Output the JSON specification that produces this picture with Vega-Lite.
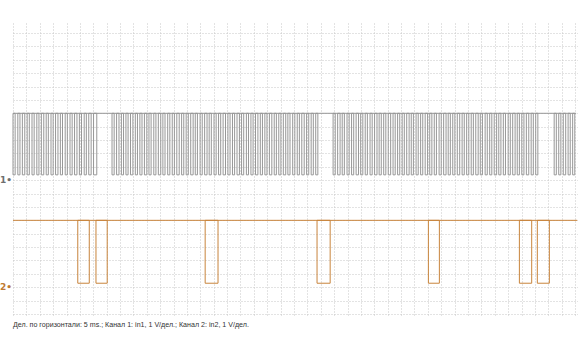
{
  "$schema": "https://vega.github.io/schema/vega-lite/v6.json",
  "width": 565,
  "height": 293,
  "autosize": "none",
  "padding": {"left": 13, "top": 23, "right": 0, "bottom": 34},
  "background": "white",
  "config": {"view": {"stroke": null}},
  "title": {"text": "Дел. по горизонтали: 5 ms.; Канал 1: in1, 1 V/дел.; Канал 2: in2, 1 V/дел.", "orient": "bottom", "anchor": "start", "frame": "group", "font": "Liberation Sans", "fontSize": 7.1, "fontWeight": "normal", "color": "#333333", "offset": 5},
  "datasets": {
    "ch1": [
      {"s":0.0,"e":0.8},{"s":1.8,"e":2.6},{"s":3.5,"e":4.4},{"s":5.3,"e":6.1},{"s":7.1,"e":7.9},{"s":8.9,"e":9.7},{"s":10.6,"e":11.5},{"s":12.4,"e":13.2},{"s":14.2,"e":15.0},{"s":15.9,"e":16.8},{"s":17.7,"e":18.5},{"s":19.5,"e":20.3},{"s":21.3,"e":22.1},{"s":23.0,"e":23.9},{"s":24.8,"e":25.6},{"s":26.6,"e":27.4},{"s":28.3,"e":29.2},{"s":30.1,"e":31.3},
      {"s":37.0,"e":37.8},{"s":38.7,"e":39.6},{"s":40.5,"e":41.3},{"s":42.2,"e":43.0},{"s":43.9,"e":44.8},{"s":45.7,"e":46.5},{"s":47.4,"e":48.2},{"s":49.1,"e":50.0},{"s":50.8,"e":51.6},{"s":52.6,"e":53.4},{"s":54.3,"e":55.2},{"s":56.0,"e":56.8},{"s":57.8,"e":58.6},{"s":59.5,"e":60.3},{"s":61.2,"e":62.1},{"s":63.0,"e":63.8},{"s":64.7,"e":65.5},{"s":66.4,"e":67.3},{"s":68.1,"e":68.9},{"s":69.9,"e":70.7},{"s":71.6,"e":72.5},{"s":73.3,"e":74.1},{"s":75.1,"e":75.9},{"s":76.8,"e":77.6},{"s":78.5,"e":79.4},{"s":80.3,"e":81.1},{"s":82.0,"e":82.8},{"s":83.7,"e":84.6},{"s":85.4,"e":86.2},{"s":87.2,"e":88.0},{"s":88.9,"e":89.7},{"s":90.6,"e":91.5},{"s":92.4,"e":93.2},{"s":94.1,"e":94.9},{"s":95.8,"e":96.7},{"s":97.6,"e":98.4},{"s":99.3,"e":100.1},{"s":101.0,"e":101.9},{"s":102.7,"e":103.5},{"s":104.5,"e":105.3},{"s":106.2,"e":107.0},{"s":107.9,"e":108.8},{"s":109.7,"e":110.5},{"s":111.4,"e":112.2},{"s":113.1,"e":113.9},
      {"s":119.6,"e":120.4},{"s":121.3,"e":122.2},{"s":123.0,"e":123.8},{"s":124.8,"e":125.6},{"s":126.5,"e":127.3},{"s":128.2,"e":129.1},{"s":129.9,"e":130.7},{"s":131.6,"e":132.4},{"s":133.4,"e":134.2},{"s":135.1,"e":136.0},{"s":136.8,"e":137.6},{"s":138.5,"e":139.3},{"s":140.2,"e":141.1},{"s":142.0,"e":142.8},{"s":143.7,"e":144.5},{"s":145.4,"e":146.2},{"s":147.1,"e":148.0},{"s":148.8,"e":149.6},{"s":150.6,"e":151.4},{"s":152.3,"e":153.1},{"s":154.0,"e":154.9},{"s":155.7,"e":156.5},{"s":157.4,"e":158.2},{"s":159.2,"e":160.0},{"s":160.9,"e":161.8},{"s":162.6,"e":163.4},{"s":164.3,"e":165.1},{"s":166.0,"e":166.9},{"s":167.8,"e":168.6},{"s":169.5,"e":170.3},{"s":171.2,"e":172.0},{"s":172.9,"e":173.8},{"s":174.6,"e":175.4},{"s":176.4,"e":177.2},{"s":178.1,"e":178.9},{"s":179.8,"e":180.7},{"s":181.5,"e":182.3},{"s":183.2,"e":184.0},{"s":185.0,"e":185.8},{"s":186.7,"e":187.6},{"s":188.4,"e":189.2},{"s":190.1,"e":190.9},{"s":191.8,"e":192.7},{"s":193.6,"e":194.4},{"s":195.3,"e":196.1},
      {"s":202.2,"e":203.0},{"s":203.9,"e":204.7},{"s":205.6,"e":206.5},{"s":207.4,"e":208.2},{"s":209.1,"e":209.9}
    ],
    "ch2": [
      {"s":24.2,"e":28.5},{"s":31.0,"e":35.2},{"s":71.8,"e":76.6},{"s":113.6,"e":118.5},{"s":155.2,"e":159.3},{"s":189.2,"e":193.8},{"s":195.9,"e":200.4}
    ]
  },
  "layer": [
    {
      "data": {"values": [{"ch": "1", "t0": 0, "t1": 210.4, "hi": 15}, {"ch": "2", "t0": 0, "t1": 210.8, "hi": 7}]},
      "mark": {"type": "rule", "strokeWidth": 1},
      "encoding": {
        "x": {"field": "t0", "type": "quantitative", "scale": {"domain": [0, 211.1], "nice": false, "zero": false},
          "axis": {"values": [0,5,10,15,20,25,30,35,40,45,50,55,60,65,70,75,80,85,90,95,100,105,110,115,120,125,130,135,140,145,150,155,160,165,170,175,180,185,190,195,200,205,210], "tickCount": 200, "grid": true, "gridColor": "#c6c6c6", "gridDash": [1, 2], "gridWidth": 1, "labels": false, "ticks": false, "domain": false, "title": null}},
        "x2": {"field": "t1"},
        "y": {"field": "hi", "type": "quantitative", "scale": {"domain": [-0.15, 21.75], "nice": false, "zero": false},
          "axis": {"values": [0,1,2,3,4,5,6,7,8,9,10,11,12,13,14,15,16,17,18,19,20,21], "tickCount": 200, "grid": true, "gridColor": "#c6c6c6", "gridDash": [1, 2], "gridWidth": 1, "labels": false, "ticks": false, "domain": false, "title": null}},
        "color": {"field": "ch", "type": "nominal", "scale": {"domain": ["1", "2"], "range": ["#979797", "#c8843c"]}, "legend": null}
      }
    },
    {
      "data": {"name": "ch1"},
      "mark": {"type": "rect", "fillOpacity": 0, "stroke": "#979797", "strokeWidth": 1},
      "encoding": {
        "x": {"field": "s", "type": "quantitative"},
        "x2": {"field": "e"},
        "y": {"datum": 10.4},
        "y2": {"datum": 15}
      }
    },
    {
      "data": {"name": "ch2"},
      "mark": {"type": "rect", "fillOpacity": 0, "stroke": "#c8843c", "strokeWidth": 1},
      "encoding": {
        "x": {"field": "s", "type": "quantitative"},
        "x2": {"field": "e"},
        "y": {"datum": 2.3},
        "y2": {"datum": 7}
      }
    },
    {
      "data": {"values": [{"lab": "1•", "lv": 10}]},
      "mark": {"type": "text", "align": "right", "baseline": "middle", "dx": -1, "font": "DejaVu Sans", "fontSize": 9, "fontWeight": "bold", "color": "#6e6e6e"},
      "encoding": {"x": {"datum": 0}, "y": {"field": "lv", "type": "quantitative"}, "text": {"field": "lab"}}
    },
    {
      "data": {"values": [{"lab": "2•", "lv": 2}]},
      "mark": {"type": "text", "align": "right", "baseline": "middle", "dx": -1, "font": "DejaVu Sans", "fontSize": 9, "fontWeight": "bold", "color": "#c07a32"},
      "encoding": {"x": {"datum": 0}, "y": {"field": "lv", "type": "quantitative"}, "text": {"field": "lab"}}
    }
  ]
}
